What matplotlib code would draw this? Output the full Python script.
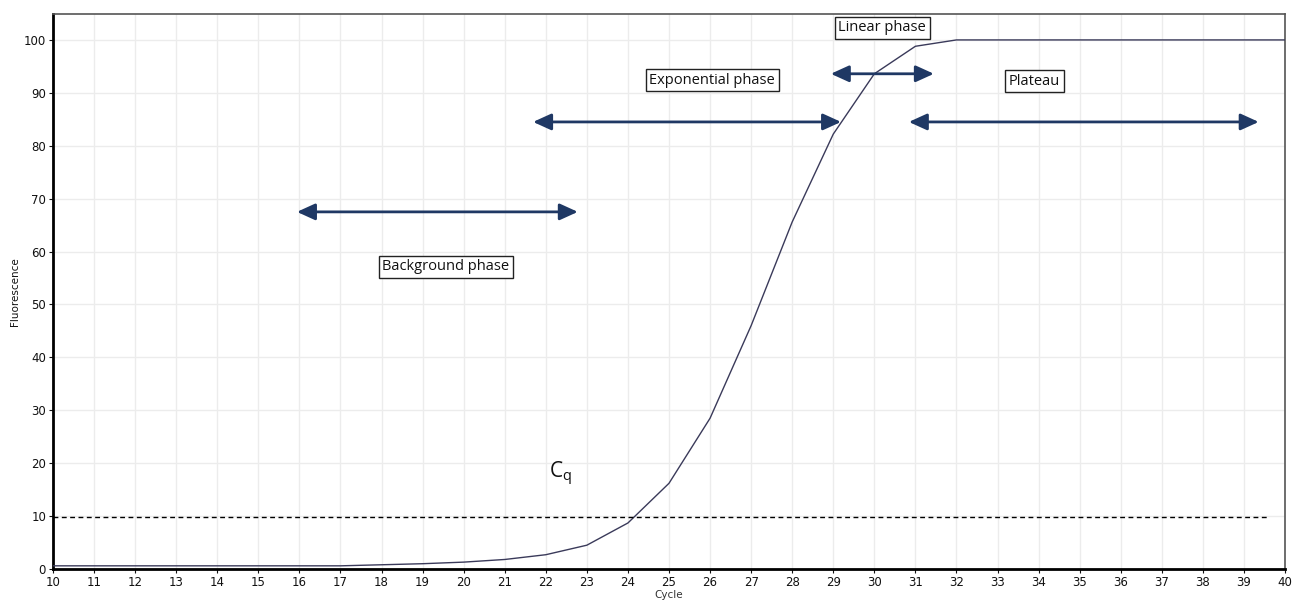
import matplotlib
matplotlib.use("Agg")
import matplotlib.pyplot as plt

cycles = list(range(10, 41))
fluorescence = [0.6, 0.6, 0.6, 0.6, 0.6, 0.6, 0.6, 0.6, 0.8, 1.0,
                1.3, 1.8, 2.7, 4.5, 8.7, 16.2, 28.5, 46.0, 65.6, 82.2,
                93.6, 98.8, 100, 100, 100, 100, 100, 100, 100, 100, 100]
threshold = 9.8
threshold_span = [10, 39.6]

phase_labels = ["Background phase", "Exponential phase", "Linear phase", "Plateau"]
phase_label_x = [19.57, 26.05, 30.19, 33.9]
phase_label_y = [57.1, 92.4, 102.3, 92.2]
arrow_start = [15.94, 21.69, 28.94, 30.84]
arrow_end = [22.78, 29.19, 31.45, 39.36]
arrow_y = [67.5, 84.5, 93.6, 84.5]

fig = plt.figure(figsize=(12.98, 6.03), dpi=100)
ax = fig.add_axes([53/1298, 1 - 569/603, (1285-53)/1298, (569-14)/603])

ax.plot(cycles, fluorescence, color="#3a3a5a", lw=1.0, zorder=3)
ax.plot(threshold_span, [threshold, threshold], color="black", lw=1.0,
        ls=(0, (3.5, 2.5)), zorder=3)

navy = "#1f3864"
for x0, x1, y in zip(arrow_start, arrow_end, arrow_y):
    ax.annotate("", xy=(x1, y), xytext=(x0, y),
                arrowprops=dict(arrowstyle="<|-|>,head_length=1.1,head_width=0.5",
                                color=navy, lw=2.0, shrinkA=0, shrinkB=0),
                zorder=4)

for lab, x, y in zip(phase_labels, phase_label_x, phase_label_y):
    ax.text(x, y, lab, ha="center", va="center", fontsize=10.5,
            family="Open Sans", color="#111111",
            bbox=dict(boxstyle="square,pad=0.25", fc="white", ec="#222222", lw=1.0),
            zorder=5)

ax.text(22.35, 18, r"C$_\mathregular{q}$", ha="center", va="center", fontsize=15,
        family="Open Sans", color="#111111")

ax.set_xlim(10, 40)
ax.set_ylim(0, 104.9)
ax.set_xticks(range(10, 41))
ax.set_yticks(range(0, 101, 10))
ax.tick_params(labelsize=8.5, length=3, width=0.8, pad=2, colors="#111111")
ax.grid(True, color="#ececec", lw=1.0)
ax.set_axisbelow(True)

ax.spines["left"].set_linewidth(2.0)
ax.spines["bottom"].set_linewidth(2.0)
ax.spines["top"].set_linewidth(1.2)
ax.spines["right"].set_linewidth(1.2)
ax.spines["top"].set_color("#555555")
ax.spines["right"].set_color("#555555")

ax.set_xlabel("Cycle", fontsize=7.5, labelpad=1, color="#333333")
ax.set_ylabel("Fluorescence", fontsize=7.5, labelpad=3, color="#111111")

fig.savefig("out.png", dpi=100)
